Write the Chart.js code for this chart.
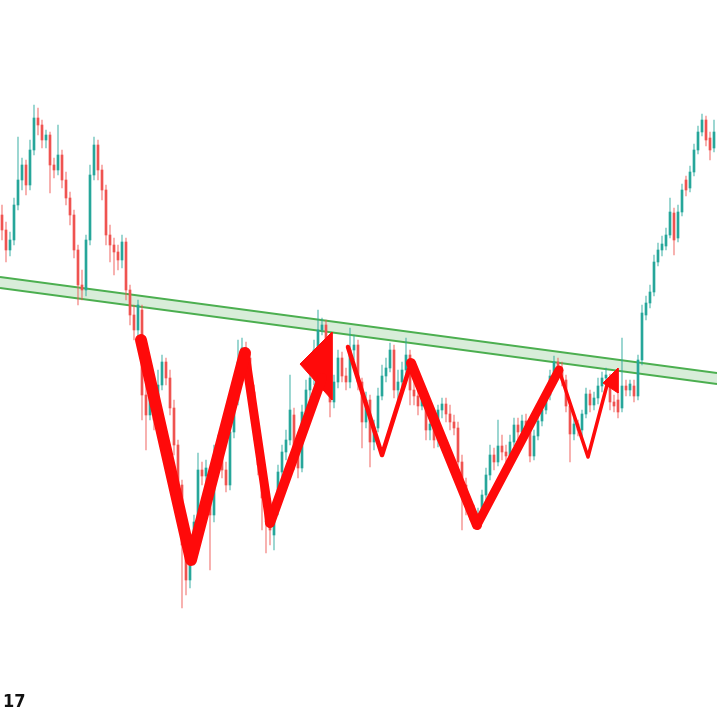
<!DOCTYPE html>
<html>
<head>
<meta charset="utf-8">
<script src="https://cdn.jsdelivr.net/npm/chart.js@4.4.1/dist/chart.umd.min.js"></script>
<style>
html,body{margin:0;padding:0;background:#fff;}
#wrap{width:717px;height:717px;position:relative;}
</style>
</head>
<body>
<div id="wrap"><canvas id="c" width="717" height="717"></canvas></div>
<script>
// Candle data (price units)
const opens  = [785,770,750,760,795,820,835,815,850,882,875,860,865,835,830,845,820,802,785,750,715,710,760,825,855,830,810,765,755,748,740,758,710,685,670,690,605,585,605,580,615,638,622,592,555,515,455,420,440,478,530,524,525,485,545,555,530,515,568,600,638,652,642,608,568,535,502,478,465,490,528,548,560,585,548,532,588,610,622,650,670,675,648,598,618,642,624,618,650,655,618,578,600,558,572,604,624,632,650,610,618,630,645,610,604,594,602,570,576,560,590,596,586,578,572,538,515,495,488,478,486,505,525,545,538,554,548,544,558,575,568,579,572,544,564,579,590,605,624,638,630,620,594,566,576,570,586,606,595,602,614,622,622,598,600,592,614,610,614,604,640,685,697,708,738,750,754,765,787,762,788,820,812,828,850,868,880,862,852];
const closes = [770,750,760,795,820,835,815,850,882,875,860,865,835,830,845,820,802,785,750,715,710,760,825,855,830,810,765,755,748,740,758,710,685,670,695,605,585,605,580,615,638,622,592,555,515,455,420,440,478,530,524,532,485,545,558,530,515,568,600,638,652,642,608,568,535,502,478,470,490,528,548,560,590,548,532,588,610,622,650,670,675,648,598,618,642,624,618,650,655,618,578,600,558,572,604,624,632,650,610,618,630,645,610,604,594,602,570,576,560,590,596,586,578,572,538,515,495,488,478,486,505,525,545,538,554,548,544,558,575,568,579,572,544,564,579,590,605,624,638,630,620,594,566,576,570,586,606,595,602,614,622,625,598,594,588,614,610,616,604,640,687,697,708,738,750,756,765,788,760,788,810,810,828,850,868,880,860,850,868];
const highs  = [795,778,768,802,863,842,840,860,895,892,880,870,868,842,875,850,828,808,790,755,730,765,835,863,860,835,815,775,762,755,765,762,715,695,700,695,615,620,615,630,645,642,630,600,560,520,460,450,485,547,538,540,530,555,565,560,538,575,610,660,662,658,648,615,572,542,510,495,498,535,555,570,625,592,555,595,620,632,660,690,682,680,652,625,650,648,632,672,665,660,622,608,605,580,612,635,642,657,655,630,638,662,650,620,612,610,605,585,582,595,602,602,595,585,578,545,522,500,495,492,510,532,555,552,580,565,555,565,582,582,585,586,576,570,585,598,612,630,644,642,638,625,600,582,580,590,612,610,608,622,628,632,626,605,608,662,620,620,620,645,695,704,715,745,757,764,772,802,792,795,816,824,834,856,874,886,884,868,880];
const lows   = [760,738,744,755,790,810,805,810,845,865,852,852,807,822,825,812,795,775,742,695,700,704,755,820,820,800,755,738,725,730,732,700,675,660,655,580,550,580,570,575,610,615,585,545,505,392,405,412,435,472,515,518,430,478,538,522,508,510,562,595,632,635,600,560,525,470,447,455,450,485,520,540,555,530,522,528,582,602,615,645,665,640,583,592,612,618,610,612,640,610,552,572,533,550,568,600,618,628,602,600,610,625,595,595,585,590,560,560,552,553,582,578,570,565,530,470,485,480,472,473,482,500,520,530,534,540,538,540,554,560,564,566,538,540,560,574,586,600,620,624,614,588,538,560,564,564,582,588,590,596,608,616,590,588,582,588,604,604,598,600,635,680,692,704,734,744,750,762,745,758,784,804,808,824,846,864,854,840,848];

// Support / resistance channel (index, price)
const channelTop    = [{x:-0.5, y:723}, {x:178.75, y:627}];
const channelBottom = [{x:-0.5, y:712}, {x:178.75, y:616}];

// Hand-drawn red pattern (index, price)
const zigA = [{x:34.75,y:660},{x:47.25,y:440},{x:60.75,y:647}];
const zigC = [{x:60.75,y:647},{x:67,y:477}];
const zigD = [{x:67,y:477},{x:80,y:622}];
const arrow1 = [{x:74.5,y:636},{x:82.5,y:668},{x:82.5,y:600},{x:74.5,y:636}];
const zigE = [{x:86.5,y:653},{x:95,y:545},{x:102.25,y:637}];
const zigF = [{x:102.25,y:637},{x:118.75,y:475}];
const zigG = [{x:118.75,y:475},{x:139.25,y:630}];
const zigH = [{x:139.25,y:630},{x:146.5,y:543},{x:151.25,y:615}];
const arrow2 = [{x:150.25,y:617},{x:154,y:632},{x:154,y:607},{x:150.25,y:617}];

const UP = '#26a69a', DOWN = '#ef5350';
const UPW = 'rgba(38,166,154,0.55)', DOWNW = 'rgba(239,83,80,0.55)';
const idx = opens.map((_, i) => i);
const bodyData = idx.map(i => ({x:i, y:[opens[i], closes[i]]}));
const wickData = idx.map(i => ({x:i, y:[lows[i], highs[i]]}));
const bodyCol = idx.map(i => closes[i] >= opens[i] ? UP : DOWN);
const wickCol = idx.map(i => closes[i] >= opens[i] ? UPW : DOWNW);

const RED = '#ff0a0a';
function seg(data, w){
  return {type:'line', data, borderColor:RED, borderWidth:w, pointRadius:0, fill:false,
          borderCapStyle:'round', borderJoinStyle:'round', tension:0, order:1};
}
function tri(data){
  return {type:'line', data, borderColor:RED, backgroundColor:RED, borderWidth:1, pointRadius:0,
          fill:'shape', tension:0, order:1};
}

const logo = {
  id:'logo',
  afterDraw(chart){
    const ctx = chart.ctx;
    ctx.save();
    ctx.fillStyle = '#111';
    ctx.font = 'bold 18px "DejaVu Sans Condensed", "DejaVu Sans", sans-serif';
    ctx.textBaseline = 'alphabetic';
    ctx.fillText('17', 3, 707);
    ctx.restore();
  }
};

new Chart(document.getElementById('c'), {
  type:'bar',
  data:{
    datasets:[
      {type:'line', data:channelTop, borderColor:'#4caf50', borderWidth:2, pointRadius:0, fill:'+1',
       backgroundColor:'rgba(76,175,80,0.22)', order:10},
      {type:'line', data:channelBottom, borderColor:'#4caf50', borderWidth:2, pointRadius:0, fill:false, order:10},
      {type:'bar', data:wickData, backgroundColor:wickCol, barThickness:1, grouped:false, order:6},
      {type:'bar', data:bodyData, backgroundColor:bodyCol, barThickness:2, grouped:false, order:5},
      seg(zigA, 12), seg(zigC, 9), seg(zigD, 10), tri(arrow1),
      seg(zigE, 4.5), seg(zigF, 10), seg(zigG, 9), seg(zigH, 3.5), tri(arrow2)
    ]
  },
  options:{
    responsive:false, animation:false, devicePixelRatio:1,
    layout:{padding:0},
    plugins:{legend:{display:false}, tooltip:{enabled:false}},
    scales:{
      x:{type:'linear', min:-0.5, max:178.75, offset:false, display:false},
      y:{type:'linear', min:283, max:1000, display:false}
    }
  },
  plugins:[logo]
});
</script>
</body>
</html>
